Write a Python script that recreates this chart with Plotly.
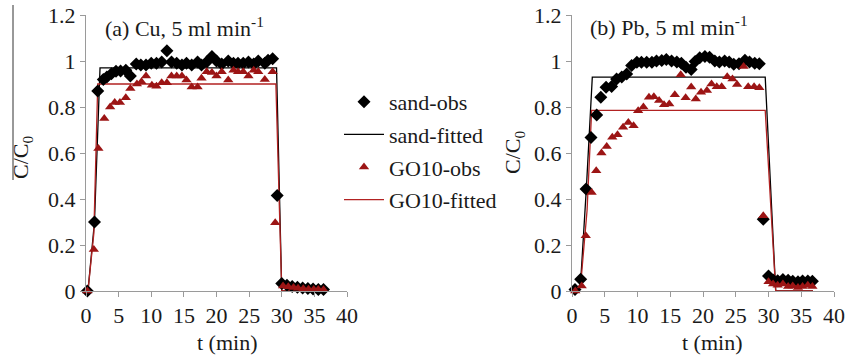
import plotly.graph_objects as go

# ---------------- data: (a) Cu ----------------
cu_sand_t = [0.2, 1.3, 1.8, 2.65, 3.2, 3.9, 4.6, 5.3, 6.1, 6.8, 7.7, 8.4, 9.2, 10.0, 10.8, 11.6, 12.4, 13.1, 13.9, 14.7,
             15.4, 16.2, 17.1, 17.7, 18.5, 19.3, 20.0, 20.8, 21.8, 22.6, 23.3, 24.1, 24.9, 25.7, 26.4, 27.4, 27.9, 28.6,
             29.3, 30.0, 30.8, 31.6, 32.4, 33.2, 34.0, 34.8, 35.6, 36.4]
cu_sand_c = [0, 0.30, 0.87, 0.92, 0.93, 0.945, 0.955, 0.956, 0.96, 0.935, 0.987, 0.983, 0.983, 0.99, 0.99, 0.996, 1.045,
             0.996, 0.99, 0.983, 0.99, 0.983, 0.996, 0.983, 0.996, 1.02, 1.0, 0.987, 1.0, 0.99, 0.99, 0.99, 0.996, 0.987,
             1.0, 0.99, 1.003, 1.01, 0.415, 0.033, 0.025, 0.02, 0.016, 0.013, 0.011, 0.009, 0.007, 0.006]
cu_go_t = [0.2, 1.2, 1.9, 2.8, 3.7, 4.4, 5.2, 6.1, 6.8, 7.8, 8.5, 9.2, 10.1, 10.8, 11.6, 12.4, 13.1, 13.9, 14.7, 15.4,
           16.2, 17.1, 17.7, 18.5, 19.3, 20.0, 20.8, 21.8, 22.6, 23.3, 24.1, 24.9, 25.7, 26.4, 27.4, 28.6, 29.0, 30.2,
           31.0, 31.8, 32.5, 33.3, 34.1, 34.9, 35.6, 36.4]
cu_go_c = [0, 0.18, 0.62, 0.75, 0.80, 0.82, 0.82, 0.84, 0.88, 0.90, 0.91, 0.935, 0.895, 0.89, 0.905, 0.905, 0.935, 0.935,
           0.935, 0.917, 0.887, 0.887, 0.925, 0.953, 0.95, 0.935, 0.953, 0.917, 0.96, 0.953, 0.953, 0.935, 0.96, 0.953,
           0.92, 0.953, 0.297, 0.022, 0.018, 0.015, 0.012, 0.01, 0.008, 0.007, 0.006, 0.005]
cu_sand_fit_t = [0.3, 1.3, 2.15, 29.2, 30.0, 36.8]
cu_sand_fit_c = [0, 0.30, 0.97, 0.97, 0, 0]
cu_go_fit_t = [0.3, 1.2, 1.8, 29.1, 30.0, 36.8]
cu_go_fit_c = [0, 0.25, 0.90, 0.90, 0, 0]

# ---------------- data: (b) Pb ----------------
pb_sand_t = [0.46, 1.33, 2.15, 2.9, 3.77, 4.4, 5.2, 6.05, 6.8, 7.6, 8.35, 9.1, 9.9, 10.6, 11.4, 12.2, 12.9, 13.7, 14.4,
             15.2, 16.0, 16.7, 17.4, 18.2, 18.8, 19.5, 20.3, 21.0, 21.8, 22.5, 23.3, 24.0, 24.7, 25.5, 26.4, 27.1, 27.9,
             28.6, 29.2, 30.0, 30.7, 31.4, 32.2, 33.0, 33.7, 34.5, 35.2, 36.0, 36.7]
pb_sand_c = [0.007, 0.051, 0.443, 0.667, 0.765, 0.842, 0.886, 0.889, 0.922, 0.93, 0.944, 0.98, 0.995, 0.995, 0.995,
             0.995, 1.0, 1.002, 1.007, 1.0, 0.996, 0.99, 0.973, 0.963, 0.998, 1.014, 1.02, 1.016, 1.0, 0.996, 1.0, 0.996,
             0.986, 0.988, 1.003, 0.996, 0.99, 0.988, 0.312, 0.065, 0.048, 0.045, 0.05, 0.047, 0.042, 0.04, 0.044,
             0.043, 0.042]
pb_go_t = [0.5, 1.48, 2.1, 3.0, 3.7, 4.5, 5.3, 6.15, 6.95, 7.8, 8.6, 9.4, 10.1, 10.9, 11.75, 12.5, 13.3, 14.05, 14.85,
           15.7, 16.6, 17.35, 18.2, 18.9, 19.7, 20.6, 21.3, 22.1, 22.85, 23.7, 24.5, 25.2, 26.2, 26.9, 27.8, 28.6, 29.2,
           30.0, 30.7, 31.4, 32.2, 33.0, 33.7, 34.5, 35.2, 36.0, 36.7]
pb_go_c = [0, 0.022, 0.24, 0.428, 0.523, 0.6, 0.628, 0.669, 0.679, 0.712, 0.733, 0.719, 0.784, 0.8, 0.842, 0.845, 0.828,
           0.81, 0.813, 0.853, 0.94, 0.84, 0.887, 0.835, 0.864, 0.872, 0.9, 0.888, 0.888, 0.932, 0.922, 0.898, 0.976,
           0.888, 0.888, 0.884, 0.327, 0.04, 0.03, 0.025, 0.03, 0.02, 0.022, 0.015, 0.02, 0.025, 0.02]
pb_sand_fit_t = [0.5, 1.3, 2.2, 3.1, 29.5, 31.1, 36.8]
pb_sand_fit_c = [0, 0.03, 0.45, 0.93, 0.93, 0, 0]
pb_go_fit_t = [0.5, 1.3, 2.3, 3.0, 29.5, 31.1, 36.8]
pb_go_fit_c = [0, 0.02, 0.35, 0.785, 0.785, 0, 0]

x_ticks = [0, 5, 10, 15, 20, 25, 30, 35, 40]
y_ticks = [0, 0.2, 0.4, 0.6, 0.8, 1, 1.2]
y_tick_text = ["0", "0.2", "0.4", "0.6", "0.8", "1", "1.2"]
series_names = ["sand-obs", "sand-fitted", "GO10-obs", "GO10-fitted"]
panel_titles = ["(a) Cu, 5 ml min<sup>-1</sup>", "(b) Pb, 5 ml min<sup>-1</sup>"]
x_title = "t (min)"
y_title = "C/C<sub>0</sub>"

# ---------------- styles ----------------
BLACK = "#000000"
RED_M = "#9C1515"
RED_L = "#B22222"
AXIS = "#9a9a9a"
FONT = "Liberation Serif"
TXT = "#1a1a1a"
FS = 22

W, H = 845, 357


def px(x):  # window pixel -> paper x
    return x / W


def py(y):  # window pixel -> paper y
    return 1 - y / H


fig = go.Figure()

panels = [
    (cu_sand_t, cu_sand_c, cu_sand_fit_t, cu_sand_fit_c, cu_go_t, cu_go_c, cu_go_fit_t, cu_go_fit_c, "x", "y"),
    (pb_sand_t, pb_sand_c, pb_sand_fit_t, pb_sand_fit_c, pb_go_t, pb_go_c, pb_go_fit_t, pb_go_fit_c, "x2", "y2"),
]
for i, (st, sc, sft, sfc, gt, gc, gft, gfc, xa, ya) in enumerate(panels):
    show = i == 0
    fig.add_trace(go.Scatter(x=sft, y=sfc, mode="lines", name=series_names[1], legendgroup="b", legendrank=2,
                             line=dict(color=BLACK, width=1.3), xaxis=xa, yaxis=ya, showlegend=show, cliponaxis=False))
    fig.add_trace(go.Scatter(x=gft, y=gfc, mode="lines", name=series_names[3], legendgroup="d", legendrank=4,
                             line=dict(color=RED_L, width=1.3), xaxis=xa, yaxis=ya, showlegend=show, cliponaxis=False))
    fig.add_trace(go.Scatter(x=st, y=sc, mode="markers", name=series_names[0], legendgroup="a", legendrank=1,
                             marker=dict(symbol="diamond", size=10, color=BLACK), xaxis=xa, yaxis=ya,
                             showlegend=show, cliponaxis=False))
    fig.add_trace(go.Scatter(x=gt, y=gc, mode="markers", name=series_names[2], legendgroup="c", legendrank=3,
                             marker=dict(symbol="triangle-up", size=9, color=RED_M), xaxis=xa, yaxis=ya,
                             showlegend=show, cliponaxis=False))

axis_common = dict(showline=True, linecolor=AXIS, linewidth=1, ticks="outside", ticklen=5, tickcolor=AXIS,
                   showgrid=False, zeroline=False, automargin=False, ticklabeloverflow="allow",
                   tickfont=dict(family=FONT, size=FS, color=TXT))
xdom1 = [px(86), px(347)]
xdom2 = [px(572), px(834)]
ydom = [py(291), py(15)]

xcommon = dict(axis_common, range=[0, 40], tickvals=x_ticks)
ycommon = dict(axis_common, range=[0, 1.2], tickvals=y_ticks, ticktext=y_tick_text)


def ann(text, x, y, angle=0, xanchor="center"):
    return dict(text=text, x=px(x), y=py(y), xref="paper", yref="paper", xanchor=xanchor, yanchor="middle",
                showarrow=False, textangle=angle, font=dict(family=FONT, size=FS, color=TXT))


fig.update_layout(
    template="none",
    width=W, height=H,
    margin=dict(l=0, r=0, t=0, b=0, pad=0, autoexpand=False),
    paper_bgcolor="white", plot_bgcolor="white",
    font=dict(family=FONT, size=FS, color=TXT),
    xaxis=dict(xcommon, domain=xdom1, anchor="y"),
    yaxis=dict(ycommon, domain=ydom, anchor="x"),
    xaxis2=dict(xcommon, domain=xdom2, anchor="y2"),
    yaxis2=dict(ycommon, domain=ydom, anchor="x2"),
    showlegend=True,
    legend=dict(x=px(339), y=py(81), xanchor="left", yanchor="top", bgcolor="rgba(0,0,0,0)",
                borderwidth=0, font=dict(family=FONT, size=FS, color=TXT), tracegroupgap=1, itemwidth=40),
    annotations=[
        ann(panel_titles[0], 103, 27, xanchor="left"),
        ann(panel_titles[1], 588, 26, xanchor="left"),
        ann(x_title, 227, 342),
        ann(x_title, 712, 342),
        ann(y_title, 22, 158, angle=-90),
        ann(y_title, 514, 153, angle=-90),
    ],
    shapes=[dict(type="line", xref="paper", yref="paper", x0=px(13), x1=px(13), y0=py(5), y1=py(180),
                 line=dict(color="#333333", width=1))],
)

# remove the default 8px page margin so the figure fills the 845x357 window exactly
fig.write_html("out.html", config={"displayModeBar": False},
               post_script="document.body.style.margin='0';")
